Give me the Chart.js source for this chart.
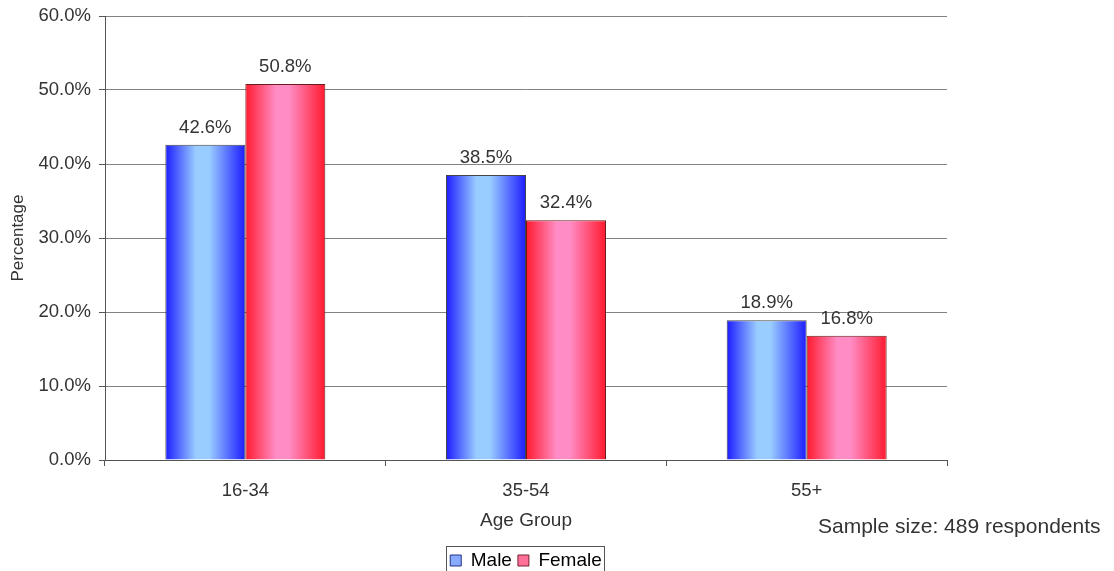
<!DOCTYPE html>
<html><head><meta charset="utf-8">
<script src="https://cdn.jsdelivr.net/npm/chart.js@4/dist/chart.umd.min.js"></script>
<style>html,body{margin:0;padding:0;background:#fff}#wrap{width:1114px;height:571px}</style>
</head><body><div id="wrap"><canvas id="c" width="1114" height="571"></canvas></div>
<script>
const categories = ['16-34', '35-54', '55+'];
const maleValues = [42.6, 38.5, 18.9];
const femaleValues = [50.8, 32.4, 16.8];
const seriesNames = ['Male', 'Female'];
const yMin = 0, yMax = 60, yStep = 10;
const xTitle = 'Age Group';
const yTitle = 'Percentage';
const sampleNote = 'Sample size: 489 respondents';

const FONT = '"Liberation Sans", Arial, sans-serif';
const CAT_PCT = 0.57;

function barGradient(ctx, dsIndex, edge, mid) {
  const chart = ctx.chart;
  const xs = chart.scales.x;
  if (!chart.chartArea || !xs || ctx.dataIndex == null) return edge;
  const c = xs.getPixelForValue(ctx.dataIndex);
  const catW = xs.width / categories.length;
  const slot = catW * CAT_PCT / 2;
  const left = dsIndex === 0 ? c - slot : c;
  const g = chart.ctx.createLinearGradient(left, 0, left + slot, 0);
  g.addColorStop(0, edge);
  g.addColorStop(0.38, mid);
  g.addColorStop(0.55, mid);
  g.addColorStop(1, edge);
  return g;
}

const valueLabels = {
  id: 'valueLabels',
  afterDatasetsDraw(chart) {
    const c = chart.ctx;
    c.save();
    c.font = '18.5px ' + FONT;
    c.fillStyle = '#333';
    c.textAlign = 'center';
    c.textBaseline = 'alphabetic';
    chart.data.datasets.forEach((ds, i) => {
      chart.getDatasetMeta(i).data.forEach((bar, j) => {
        c.fillText(ds.data[j].toFixed(1) + '%', bar.x, bar.y - 12);
      });
    });
    c.restore();
  }
};

const legendPlace = {
  id: 'legendPlace',
  afterLayout(chart) {
    const lg = chart.legend, a = chart.chartArea;
    if (!lg || !a) return;
    lg.left = a.left; lg.right = a.right; lg.width = a.right - a.left;
    const h = lg.bottom - lg.top;
    lg.top = 571 - h + 9; lg.bottom = lg.top + h;
  }
};

const extras = {
  id: 'extras',
  afterDraw(chart) {
    const c = chart.ctx;
    c.save();
    const boxes = chart.legend && chart.legend.legendHitBoxes;
    if (boxes && boxes.length) {
      let l = Infinity, r = -Infinity, t = Infinity, b = -Infinity;
      boxes.forEach(h => { l = Math.min(l, h.left); r = Math.max(r, h.left + h.width); t = Math.min(t, h.top); b = Math.max(b, h.top + h.height); });
      c.strokeStyle = '#555';
      c.lineWidth = 1;
      c.strokeRect(Math.round(l - 4) + 0.5, Math.round(t - 5) + 0.5, Math.round(r - l + 6), Math.round(b - t + 12));
    }
    c.font = '21px ' + FONT;
    c.fillStyle = '#333';
    c.textAlign = 'left';
    c.textBaseline = 'middle';
    c.fillText(sampleNote, 818, 527);
    c.restore();
  }
};

new Chart(document.getElementById('c'), {
  type: 'bar',
  data: {
    labels: categories,
    datasets: [
      {
        label: seriesNames[0], data: maleValues,
        backgroundColor: ctx => barGradient(ctx, 0, '#1c1cff', '#99ccff'),
        borderColor: '#444', borderWidth: 1,
        barPercentage: 1, categoryPercentage: CAT_PCT
      },
      {
        label: seriesNames[1], data: femaleValues,
        backgroundColor: ctx => barGradient(ctx, 1, '#ff1a2e', '#ff8cc4'),
        borderColor: '#6a1a1a', borderWidth: 1,
        barPercentage: 1, categoryPercentage: CAT_PCT
      }
    ]
  },
  options: {
    responsive: false,
    animation: false,
    layout: { padding: { top: 16, right: 167, left: 0, bottom: 2 } },
    plugins: {
      tooltip: { enabled: false },
      legend: {
        position: 'bottom',
        labels: {
          font: { family: FONT, size: 19 },
          color: '#111',
          boxWidth: 11, boxHeight: 11, padding: 6,
          generateLabels: chart => [
            { text: seriesNames[0], fillStyle: '#88aaff', strokeStyle: '#223388', lineWidth: 1, datasetIndex: 0 },
            { text: seriesNames[1], fillStyle: '#ff7099', strokeStyle: '#772233', lineWidth: 1, datasetIndex: 1 }
          ]
        }
      }
    },
    scales: {
      x: {
        grid: { display: true, drawOnChartArea: false, drawTicks: true, tickLength: 6, color: '#555', offset: true },
        border: { display: true, color: '#555' },
        ticks: { font: { family: FONT, size: 18.5 }, color: '#333', padding: 14 },
        title: { display: true, text: xTitle, font: { family: FONT, size: 19 }, color: '#333', padding: { top: 8, bottom: 2 } },
        afterFit: s => { s.height = 74; s.paddingLeft = 0; s.paddingRight = 0; }
      },
      y: {
        min: yMin, max: yMax,
        ticks: { stepSize: yStep, font: { family: FONT, size: 18.5 }, color: '#333', padding: 8,
          callback: v => Number(v).toFixed(1) + '%' },
        grid: { color: '#828282', tickColor: '#555', tickLength: 6, drawTicks: true },
        border: { display: true, color: '#555' },
        title: { display: true, text: yTitle, font: { family: FONT, size: 17 }, color: '#333', padding: { top: 8, bottom: 0 } },
        afterFit: s => { s.width = 105; s.paddingTop = 0; s.paddingBottom = 0; }
      }
    }
  },
  plugins: [valueLabels, legendPlace, extras]
});
</script>
</body></html>
